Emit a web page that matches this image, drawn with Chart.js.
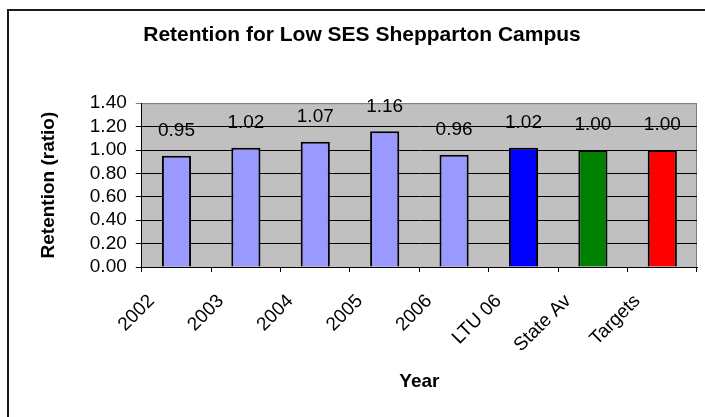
<!DOCTYPE html>
<html>
<head>
<meta charset="utf-8">
<script src="https://cdn.jsdelivr.net/npm/chart.js@4.4.1/dist/chart.umd.min.js"></script>
<style>
  html, body { margin: 0; padding: 0; background: #fff; overflow: hidden; }
  #marco { position: absolute; left: 7px; top: 9px; width: 800px; height: 600px; border: 2px solid #1a1a1a; }
  #grafico { position: absolute; left: 0; top: 0; }
</style>
</head>
<body>
<div id="marco"></div>
<canvas id="grafico" width="705" height="417"></canvas>
<script>
const categorias = ["2002", "2003", "2004", "2005", "2006", "LTU 06", "State Av", "Targets"];
const retencion = [0.95, 1.02, 1.07, 1.16, 0.96, 1.02, 1.00, 1.00];
const coloresBarras = ["#9999FF", "#9999FF", "#9999FF", "#9999FF", "#9999FF", "#0000FF", "#008000", "#FF0000"];
const ticksY = [0, 0.2, 0.4, 0.6, 0.8, 1.0, 1.2, 1.4];

const fuente = "'Liberation Sans', Arial, sans-serif";

// fondo gris del area del grafico y borde gris arriba / derecha
const fondoArea = {
  id: "fondoArea",
  beforeDraw(chart) {
    const { ctx, chartArea } = chart;
    ctx.save();
    ctx.fillStyle = "#C0C0C0";
    ctx.fillRect(chartArea.left, chartArea.top, chartArea.width, chartArea.height);
    ctx.strokeStyle = "#808080";
    ctx.lineWidth = 1;
    ctx.beginPath();
    ctx.moveTo(chartArea.left, chartArea.top + 0.5);
    ctx.lineTo(chartArea.right - 0.5, chartArea.top + 0.5);
    ctx.lineTo(chartArea.right - 0.5, chartArea.bottom);
    ctx.stroke();
    ctx.restore();
  },
};

// etiquetas con el valor sobre cada barra
const etiquetas = {
  id: "etiquetas",
  afterDatasetsDraw(chart) {
    const { ctx } = chart;
    const meta = chart.getDatasetMeta(0);
    ctx.save();
    ctx.font = "19px " + fuente;
    ctx.fillStyle = "#000";
    ctx.textAlign = "center";
    ctx.textBaseline = "middle";
    meta.data.forEach((barra, i) => {
      ctx.fillText(retencion[i].toFixed(2), barra.x, barra.y - 25);
    });
    ctx.restore();
  },
};

const config = {
  type: "bar",
  data: {
    labels: categorias,
    datasets: [
      {
        data: retencion,
        backgroundColor: coloresBarras,
        borderColor: "#000",
        borderWidth: 2,
        categoryPercentage: 1,
        barPercentage: 0.42,
      },
    ],
  },
  options: {
    responsive: false,
    animation: false,
    layout: { padding: { left: 27, right: 8, top: 0, bottom: 0 } },
    plugins: {
      legend: { display: false },
      tooltip: { enabled: false },
      title: {
        display: true,
        text: "Retention for Low SES Shepparton Campus",
        color: "#000",
        font: { family: fuente, size: 21, weight: "bold" },
        padding: { top: 23, bottom: 55 },
      },
    },
    scales: {
      x: {
        offset: true,
        afterFit(scale) {
          scale.height = 150;
        },
        grid: {
          offset: true,
          drawOnChartArea: false,
          drawTicks: true,
          tickLength: 5,
          color: "#000",
        },
        border: { color: "#000", width: 1 },
        ticks: {
          color: "#000",
          font: { family: fuente, size: 19 },
          minRotation: 45,
          maxRotation: 45,
          labelOffset: -25,
          padding: 18,
          autoSkip: false,
        },
        title: {
          display: true,
          text: "Year",
          color: "#000",
          font: { family: fuente, size: 19, weight: "bold" },
          padding: { top: 0, bottom: 24 },
        },
      },
      y: {
        min: 0,
        max: 1.4,
        afterBuildTicks(scale) {
          scale.ticks = ticksY.map((v) => ({ value: v }));
        },
        grid: {
          color: (c) => (c.tick && c.tick.value === 1.4 ? "#808080" : "#000"),
          tickLength: 6,
          lineWidth: 1,
        },
        border: { color: "#000", width: 1 },
        ticks: {
          color: "#000",
          font: { family: fuente, size: 19 },
          padding: 9,
          autoSkip: false,
          callback: (v) => Number(v).toFixed(2),
        },
        title: {
          display: true,
          text: "Retention (ratio)",
          color: "#000",
          font: { family: fuente, size: 19, weight: "bold" },
          padding: { top: 10, bottom: 21 },
        },
      },
    },
  },
  plugins: [fondoArea, etiquetas],
};

new Chart(document.getElementById("grafico"), config);
</script>
</body>
</html>
